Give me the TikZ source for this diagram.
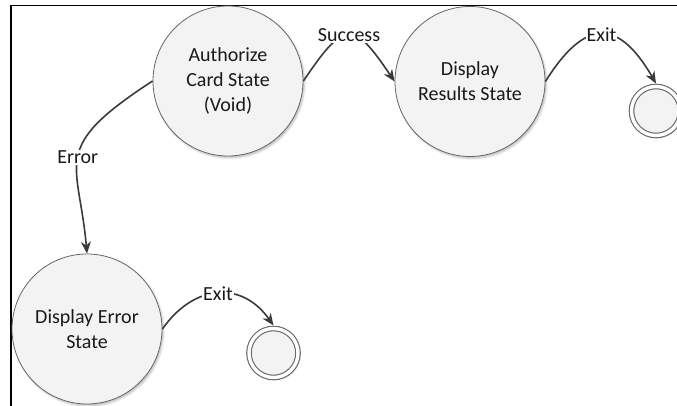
\documentclass[tikz,border=0pt]{standalone}
\usepackage{fontspec}
\setmainfont{Carlito}
\usepackage{xcolor}
\usetikzlibrary{automata, arrows.meta, shadows.blur}
\definecolor{edgegray}{HTML}{3A3A3A}
\definecolor{rimgray}{HTML}{666666}
\definecolor{stategray}{HTML}{F3F3F3}
\tikzset{
    x=1pt, y=1pt, % one unit is one pixel of the sketch
    >={Stealth[length=12pt, width=10pt]}, % makes the arrow heads bold
    every state/.style={draw=rimgray, line width=0.8pt, fill=stategray, minimum size=150pt, inner sep=0pt, align=center, text=black!90, font=\fontsize{20}{25}\selectfont, blur shadow={shadow xshift=1.5pt, shadow yshift=-2pt, shadow opacity=25}}, % the big states
    exitstate/.style={circle, draw=rimgray, line width=1.1pt, fill=stategray, double=white, double distance=3.4pt, minimum size=49pt, inner sep=0pt, outer sep=3pt, blur shadow={shadow xshift=1.5pt, shadow yshift=-2pt, shadow opacity=25}}, % the end states
    lbl/.style={fill=white, inner sep=1pt, text=black!90, font=\fontsize{20}{25}\selectfont}, % text on the edges
}
\tikzstyle{arrow} = [edgegray, line width=1.6pt, ->]

\begin{document}
\begin{tikzpicture}
    \useasboundingbox (0,0) rectangle (677,406);
    \draw[line width=1.2pt] (11,0) -- (11,400.3) -- (677,400.3);

    \node[state] (auth) at (228,325) {Authorize\\Card State\\(Void)};
    \node[state] (results) at (470,324.5) {Display\\Results State};
    \node[state] (error) at (87,77) {Display Error\\State};
    \node[exitstate] (endtop) at (656,295) {};
    \node[exitstate] (endlow) at (273.5,53) {};

    \draw[arrow] (auth.east) to[out=56, in=124, distance=74pt] node[lbl] {Success} (results.west);
    \draw[arrow] (results.east) to[out=58, in=120, distance=75pt] node[lbl] {Exit} (endtop.north);
    \draw[arrow] (auth.west) to[out=213, in=95, out distance=124pt, in distance=94pt] node[lbl] {Error} (error.north);
    \draw[arrow] (error.east) to[out=55, in=125, distance=55pt] node[lbl] {Exit} (endlow.north);
\end{tikzpicture}
\end{document}
